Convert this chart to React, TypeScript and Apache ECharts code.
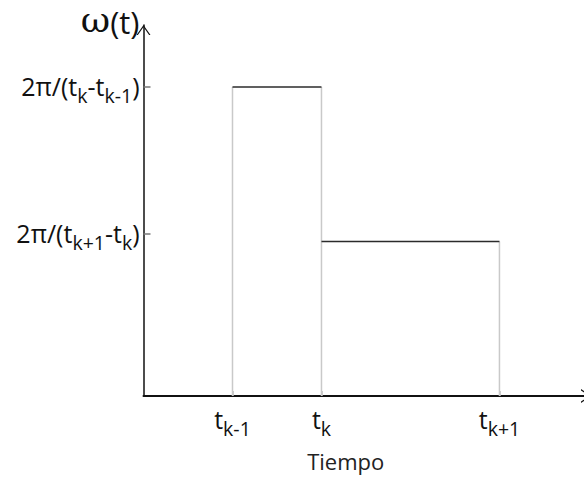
import { useEffect, useRef } from "react";
import * as echarts from "echarts";

// Time instants t_{k-1}, t_k, t_{k+1} on the horizontal axis
const tNodes = [1, 2, 4];
const tLabels = ["{m|t}{s|k-1}", "{m|t}{s|k}", "{m|t}{s|k+1}"];

// Angular velocity on each interval: 2π/(t_k - t_{k-1}) and 2π/(t_{k+1} - t_k)
const omegaLevels = [6.28, 3.14];

// Vertical-axis tick positions and their symbolic labels
const yTickValues = [6.28, 3.3];
const yTickLabels = [
  "{m|2π/(t}{s|k}{m|-t}{s|k-1}{m|)}",
  "{m|2π/(t}{s|k+1}{m|-t}{s|k}{m|)}",
];

const xMax = 4.95;
const yMax = 7.54;

const FONT = "Open Sans";
const INK = "#111";

// Open chevron used as the arrow head of both axes (points up before rotation)
const CHEVRON = "path://M0,10 L7,0 L14,10 L12.6,10 L7,2 L1.4,10 Z";

const rich = {
  m: { fontFamily: FONT, fontSize: 25, lineHeight: 26, verticalAlign: "top", color: INK },
  s: { fontFamily: FONT, fontSize: 19.5, lineHeight: 20, padding: [12, 0, 0, 0], verticalAlign: "top", color: INK },
};

function pick(values: number[], labels: string[], v: number) {
  let best = 0;
  values.forEach((x, i) => {
    if (Math.abs(x - v) < Math.abs(values[best] - v)) best = i;
  });
  return labels[best];
}

export default function App() {
  const ref = useRef<HTMLDivElement>(null);

  useEffect(() => {
    if (!ref.current) return;
    const chart = echarts.init(ref.current, undefined, { renderer: "svg" });

    const tops = omegaLevels.map((w, i) => ({
      type: "line",
      data: [
        [tNodes[i], w],
        [tNodes[i + 1], w],
      ],
      symbol: "none",
      silent: true,
      z: 3,
      lineStyle: { color: "#2b2b2b", width: 1.5 },
    }));

    const sides = tNodes.map((t, i) => ({
      type: "line",
      data: [
        [t, 0],
        [t, Math.max(omegaLevels[i - 1] ?? 0, omegaLevels[i] ?? 0)],
      ],
      symbol: "none",
      silent: true,
      z: 2,
      lineStyle: { color: "#c9c9c9", width: 1.5 },
    }));

    chart.setOption({
      animation: false,
      grid: { left: 143.5, top: 25, right: 0, bottom: 86, show: false, outerBoundsMode: "none" },
      xAxis: {
        type: "value",
        min: 0,
        max: xMax,
        name: "Tiempo",
        nameLocation: "middle",
        nameGap: 54,
        nameTextStyle: { fontFamily: FONT, fontSize: 22, color: "#222", padding: [0, 36, 0, 0] },
        axisLine: {
          show: true,
          onZero: false,
          symbol: ["none", CHEVRON],
          symbolSize: [14, 10],
          symbolOffset: [0, 2],
          lineStyle: { color: "#111", width: 2 },
        },
        axisTick: {
          show: true,
          inside: true,
          length: 5,
          customValues: tNodes,
          lineStyle: { color: "#bbb", width: 1.5 },
        },
        axisLabel: {
          customValues: tNodes,
          margin: 10,
          formatter: (v: number) => pick(tNodes, tLabels, v),
          rich,
        },
        splitLine: { show: false },
      },
      yAxis: {
        type: "value",
        min: 0,
        max: yMax,
        name: "{w|ω}{p|(t)}",
        nameLocation: "end",
        nameGap: 3,
        nameMoveOverlap: false,
        nameTextStyle: {
          align: "right",
          verticalAlign: "middle",
          padding: [0, 4, 0, 0],
          rich: {
            w: { fontFamily: "DejaVu Serif", fontSize: 36, lineHeight: 30, verticalAlign: "bottom", color: INK },
            p: { fontFamily: FONT, fontSize: 31, lineHeight: 30, verticalAlign: "bottom", color: INK },
          },
        },
        axisLine: {
          show: true,
          onZero: false,
          symbol: ["none", CHEVRON],
          symbolSize: [14, 10],
          symbolOffset: [0, -5],
          lineStyle: { color: "#111", width: 1.5 },
        },
        axisTick: {
          show: true,
          inside: true,
          length: 7,
          customValues: yTickValues,
          lineStyle: { color: "#777", width: 1.5 },
        },
        axisLabel: {
          customValues: yTickValues,
          margin: 4,
          align: "right",
          formatter: (v: number) => pick(yTickValues, yTickLabels, v),
          rich,
        },
        splitLine: { show: false },
      },
      series: [...sides, ...tops],
    });

    return () => chart.dispose();
  }, []);

  return (
    <div
      ref={ref}
      style={{ position: "fixed", left: 0, top: 0, width: 584, height: 482, background: "#fff" }}
    />
  );
}
